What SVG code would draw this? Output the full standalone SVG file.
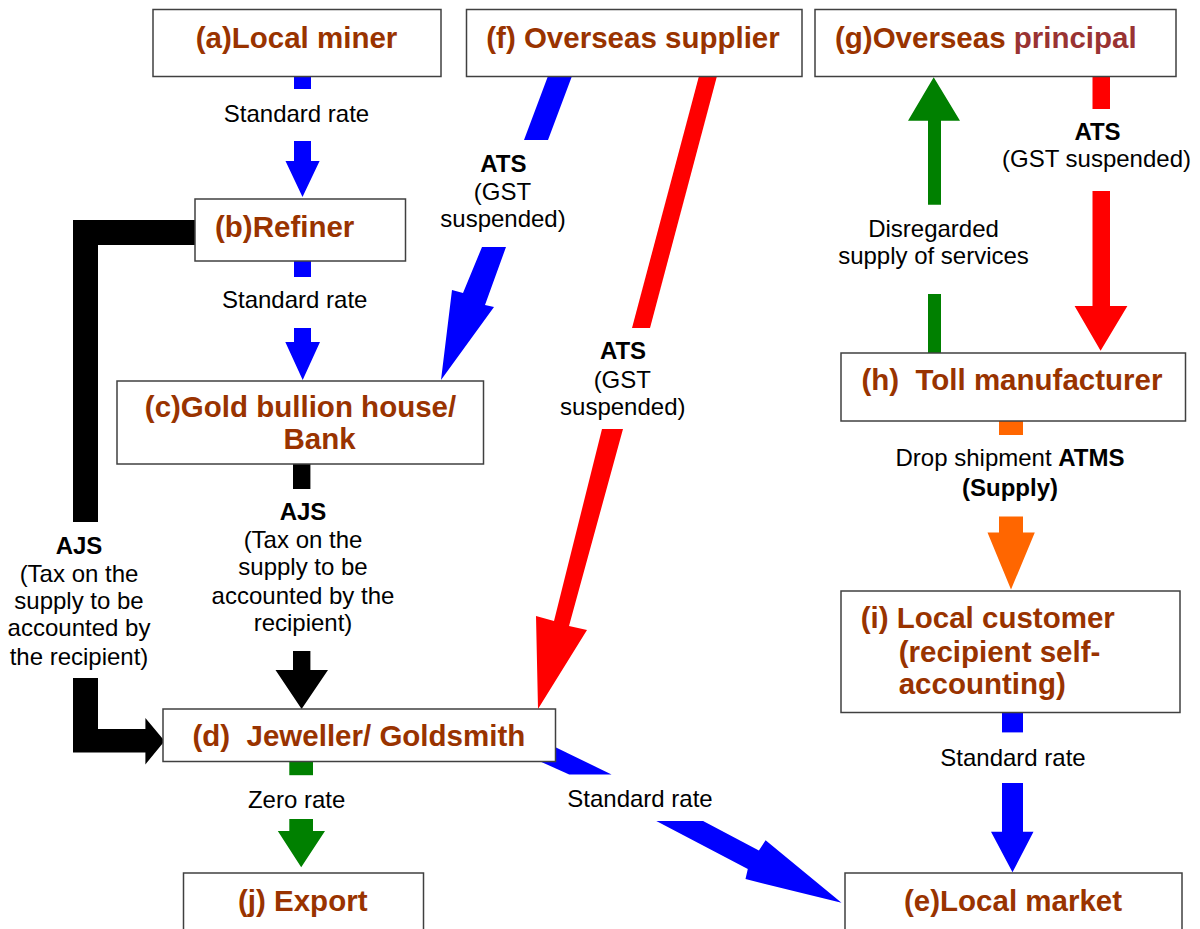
<svg xmlns="http://www.w3.org/2000/svg" width="1200" height="929" viewBox="0 0 1200 929">
<style>
.box{fill:#ffffff;stroke:#404040;stroke-width:1.5}
.nl{font-family:"Liberation Sans",Arial,sans-serif;font-weight:bold;font-size:29.5px;fill:#993300;white-space:pre}
.el{font-family:"Liberation Sans",Arial,sans-serif;font-size:24px;fill:#000000;text-anchor:middle}
.b{font-weight:bold}
.blue{fill:#0000ff}
.red{fill:#ff0000}
.green{fill:#008000}
.orange{fill:#ff6600}
.black{fill:#000000}
</style>
<rect x="0" y="0" width="1200" height="929" fill="#ffffff"/>
<g id="connectors">
  <g id="a-b">
    <rect class="blue" x="294" y="77" width="17" height="12"/>
    <polygon class="blue" points="294,141 311,141 311,161 319.6,161 302.5,197 285.5,161 294,161"/>
    <text class="el" x="296.5" y="122">Standard rate</text>
  </g>
  <g id="b-c">
    <rect class="blue" x="294" y="261" width="17" height="16"/>
    <polygon class="blue" points="294,328 311,328 311,342 320,342 302.7,380 285.3,342 294,342"/>
    <text class="el" x="294.7" y="308">Standard rate</text>
  </g>
  <g id="f-c">
    <polygon class="blue" points="548,76 572,76 548,140 524,140"/>
    <polygon class="blue" points="482,247 506,247 485,305 494,307 441,380 452,290 463,293"/>
    <text class="el b" x="503.3" y="172">ATS</text>
    <text class="el" x="502.5" y="200">(GST</text>
    <text class="el" x="503" y="227">suspended)</text>
  </g>
  <g id="f-d">
    <polygon class="red" points="699,76 717,76 650,328 632,328"/>
    <polygon class="red" points="602,429 623,429 569,626 587,630 538,709 536,616 554,621"/>
    <text class="el b" x="623" y="359">ATS</text>
    <text class="el" x="622.3" y="388">(GST</text>
    <text class="el" x="622.8" y="415">suspended)</text>
  </g>
  <g id="c-d">
    <rect class="black" x="293" y="464" width="17.4" height="25"/>
    <polygon class="black" points="293,651 310.4,651 310.4,670 328,670 301.6,709 275.5,670 293,670"/>
    <text class="el b" x="303" y="520">AJS</text>
    <text class="el" x="303" y="548.4">(Tax on the</text>
    <text class="el" x="303" y="575.4">supply to be</text>
    <text class="el" x="303" y="604">accounted by the</text>
    <text class="el" x="303" y="631">recipient)</text>
  </g>
  <g id="b-d">
    <polygon class="black" points="195,220 195,245 98,245 98,522 73,522 73,220"/>
    <polygon class="black" points="73,678 98,678 98,729 145.4,729 145.4,718 164.6,741 145.4,764.4 145.4,752.6 73,752.6"/>
    <text class="el b" x="79" y="553.5">AJS</text>
    <text class="el" x="79" y="582">(Tax on the</text>
    <text class="el" x="79" y="609">supply to be</text>
    <text class="el" x="79" y="636">accounted by</text>
    <text class="el" x="79" y="665">the recipient)</text>
  </g>
  <g id="d-j">
    <rect class="green" x="289.3" y="761" width="23.7" height="14.2"/>
    <polygon class="green" points="289.3,819 313,819 313,831 325,831 301.2,867.3 277.8,831 289.3,831"/>
    <text class="el" x="296.6" y="808">Zero rate</text>
  </g>
  <g id="d-e">
    <polygon class="blue" points="520,730 611.6,774.5 569.2,774.5 520,752.4"/>
    <polygon class="blue" points="656.3,821 703.1,821 758.9,850.4 765.6,840.3 841.5,902.7 745.5,879.1 747.8,869"/>
    <text class="el" x="640" y="806.5">Standard rate</text>
  </g>
  <g id="h-g">
    <rect class="green" x="928" y="294" width="13" height="59"/>
    <polygon class="green" points="928,204.7 941,204.7 941,120.7 960,120.7 933.7,77.3 908,120.7 928,120.7"/>
    <text class="el" x="933.5" y="236.7">Disregarded</text>
    <text class="el" x="933.5" y="263.5">supply of services</text>
  </g>
  <g id="g-h">
    <rect class="red" x="1092.5" y="77" width="17.5" height="32"/>
    <polygon class="red" points="1092.5,191 1110,191 1110,306 1127.4,306 1100.6,350.7 1074.6,306 1092.5,306"/>
    <text class="el b" x="1097.5" y="140">ATS</text>
    <text class="el" x="1096.5" y="166.7">(GST suspended)</text>
  </g>
  <g id="h-i">
    <rect class="orange" x="999" y="421" width="24" height="14"/>
    <polygon class="orange" points="999,516.4 1023,516.4 1023,532.6 1034.8,532.6 1011,589.6 987.5,532.6 999,532.6"/>
    <text class="el" x="1010" y="466">Drop shipment <tspan class="b">ATMS</tspan></text>
    <text class="el b" x="1010" y="496">(Supply)</text>
  </g>
  <g id="i-e">
    <rect class="blue" x="1002" y="712.4" width="21" height="20"/>
    <polygon class="blue" points="1002,783 1023,783 1023,831.8 1033.5,831.8 1012.5,872.3 991,831.8 1002,831.8"/>
    <text class="el" x="1013" y="766">Standard rate</text>
  </g>
</g>
<g id="node-a">
  <rect class="box" x="153" y="9.5" width="288" height="67"/>
  <text class="nl" x="296.5" y="48" text-anchor="middle">(a)Local miner</text>
</g>
<g id="node-f">
  <rect class="box" x="466.5" y="9.5" width="335.5" height="67"/>
  <text class="nl" x="633" y="48" text-anchor="middle">(f) Overseas supplier</text>
</g>
<g id="node-g">
  <rect class="box" x="815" y="9.5" width="361" height="67"/>
  <text class="nl" x="835" y="48">(g)Overseas <tspan fill="#993333">principal</tspan></text>
</g>
<g id="node-b">
  <rect class="box" x="195" y="199" width="210.5" height="62"/>
  <text class="nl" x="215" y="237">(b)Refiner</text>
</g>
<g id="node-c">
  <rect class="box" x="117" y="381" width="366.5" height="83"/>
  <text class="nl" x="300.5" y="417" text-anchor="middle">(c)Gold bullion house/</text>
  <text class="nl" x="319.5" y="449" text-anchor="middle">Bank</text>
</g>
<g id="node-d">
  <rect class="box" x="163" y="709" width="392.5" height="52.5"/>
  <text class="nl" x="192.5" y="746">(d)  Jeweller/ Goldsmith</text>
</g>
<g id="node-j">
  <rect class="box" x="183.5" y="873" width="240" height="70"/>
  <text class="nl" x="238" y="911">(j) Export</text>
</g>
<g id="node-h">
  <rect class="box" x="841" y="353" width="344.5" height="68"/>
  <text class="nl" x="861.4" y="390">(h)  Toll manufacturer</text>
</g>
<g id="node-i">
  <rect class="box" x="841" y="591" width="339" height="121.5"/>
  <text class="nl" x="860.7" y="628">(i) Local customer</text>
  <text class="nl" x="898.7" y="661.5">(recipient self-</text>
  <text class="nl" x="898.7" y="693.5">accounting)</text>
</g>
<g id="node-e">
  <rect class="box" x="845" y="873" width="337" height="70"/>
  <text class="nl" x="904" y="911">(e)Local market</text>
</g>
</svg>
